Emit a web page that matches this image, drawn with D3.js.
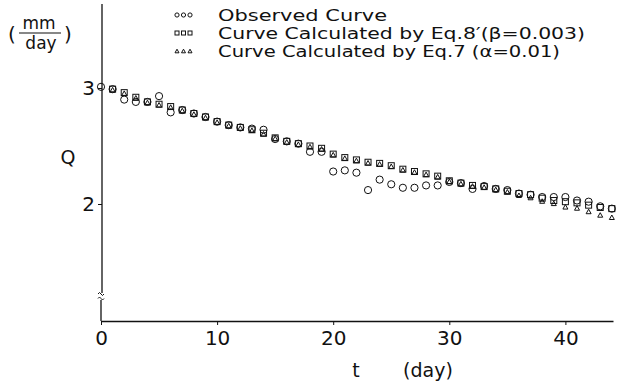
<!DOCTYPE html>
<html><head><meta charset="utf-8">
<script src="https://cdn.jsdelivr.net/npm/d3@7"></script>
<style>
body{margin:0;background:#fff;}
svg text{font-family:"DejaVu Sans","Liberation Sans",sans-serif;fill:#111;}
</style></head>
<body><svg id="c" width="621" height="384"></svg>
<script>
const days = d3.range(0, 45);
const observed = [3.01,2.99,2.90,2.88,2.88,2.93,2.79,2.81,2.78,2.75,2.71,2.68,2.66,2.65,2.64,2.56,2.54,2.52,2.45,2.45,2.28,2.29,2.27,2.12,2.21,2.17,2.14,2.14,2.16,2.16,2.19,2.18,2.13,2.155,2.13,2.12,2.09,2.08,2.06,2.06,2.06,2.03,2.02,1.98,1.96];
const calcDays = d3.range(1, 45);
const eq8 = [2.99,2.96,2.92,2.88,2.86,2.84,2.81,2.78,2.75,2.71,2.68,2.66,2.64,2.61,2.57,2.54,2.52,2.50,2.48,2.43,2.40,2.38,2.36,2.35,2.33,2.30,2.28,2.26,2.24,2.20,2.18,2.16,2.15,2.13,2.11,2.09,2.08,2.05,2.03,2.02,2.01,1.99,1.97,1.96];
const eq7 = [2.99,2.96,2.92,2.88,2.86,2.84,2.81,2.78,2.75,2.71,2.68,2.66,2.64,2.61,2.57,2.54,2.52,2.50,2.48,2.43,2.40,2.38,2.36,2.35,2.33,2.30,2.28,2.26,2.24,2.20,2.18,2.16,2.15,2.13,2.11,2.08,2.06,2.03,2.01,1.98,1.97,1.94,1.91,1.89];
const xTicks = [0,10,20,30,40];
const yTicks = [2,3];
const legendLabels = ["Observed Curve","Curve Calculated by Eq.8\u2032(\u03B2=0.003)","Curve Calculated by Eq.7 (\u03B1=0.01)"];

const svg = d3.select("#c");
const x = d3.scaleLinear().domain([0,44.1]).range([101,613]);
const y = d3.scaleLinear().domain([2,3]).range([204,88]);
const x0 = 101, yBase = 321;

// x axis
const gx = svg.append("g").attr("transform",`translate(0,${yBase})`)
  .call(d3.axisBottom(x).tickValues(xTicks).tickFormat(d3.format("d")).tickSize(4).tickSizeOuter(0).tickPadding(6));
gx.select(".domain").attr("stroke","#111").attr("stroke-width",1.3);
gx.selectAll(".tick line").attr("stroke","#111");
gx.selectAll("text").attr("font-size",20).style("font-family","DejaVu Sans").attr("fill","#111");

// y axis
const gy = svg.append("g").attr("transform",`translate(${x0+1},0)`)
  .call(d3.axisLeft(y).tickValues(yTicks).tickFormat(d3.format("d")).tickSize(4).tickPadding(3));
gy.select(".domain").remove();
gy.selectAll(".tick line").attr("stroke","#111");
gy.selectAll("text").attr("font-size",20).style("font-family","DejaVu Sans").attr("fill","#111");
// y axis line with break
svg.append("line").attr("x1",x0+1).attr("x2",x0+1).attr("y1",4).attr("y2",293).attr("stroke","#111").attr("stroke-width",1.3);
svg.append("line").attr("x1",x0).attr("x2",x0).attr("y1",300).attr("y2",yBase).attr("stroke","#111").attr("stroke-width",1.3);
[293,297.5].forEach(yy=>{
  svg.append("path").attr("d",`M${x0-3},${yy+1} q1.5,-3 3,0 t3,0`).attr("fill","none").attr("stroke","#111").attr("stroke-width",1);
});

// markers
function circle(g,cx,cy,r){g.append("circle").attr("cx",cx).attr("cy",cy).attr("r",r).attr("fill","none").attr("stroke","#111").attr("stroke-width",1);}
function square(g,cx,cy,s){g.append("rect").attr("x",cx-s/2).attr("y",cy-s/2).attr("width",s).attr("height",s).attr("fill","none").attr("stroke","#111").attr("stroke-width",1);}
function tri(g,cx,cy,s){const h=s*0.9;g.append("path").attr("d",`M${cx},${cy-h/2}L${cx+s/2},${cy+h/2}L${cx-s/2},${cy+h/2}Z`).attr("fill","none").attr("stroke","#111").attr("stroke-width",1);}

const gm = svg.append("g");
calcDays.forEach((d,i)=>square(gm,x(d),y(eq8[i]),6));
calcDays.forEach((d,i)=>tri(gm,x(d),y(eq7[i])+0.5,5));
days.forEach((d,i)=>circle(gm,x(d),y(observed[i]),3.6));

// legend
const lg = svg.append("g");
const rowsY = [15,33,51];
const widths = [169,367,342];
[0,1,2].forEach(k=>{
  [177,183.5,190].forEach(sx=>{
    if(k===0) circle(lg,sx,rowsY[k],2.1);
    else if(k===1) square(lg,sx,rowsY[k],4);
    else tri(lg,sx,rowsY[k],4);
  });
  lg.append("text").attr("x",218).attr("y",rowsY[k]+6).attr("font-size",16)
    .attr("textLength",widths[k]).attr("lengthAdjust","spacingAndGlyphs").text(legendLabels[k]);
});

// y unit label
svg.append("text").attr("x",8).attr("y",41).attr("font-size",20).text("(");
svg.append("text").attr("x",64).attr("y",41).attr("font-size",20).text(")");
svg.append("text").attr("x",39).attr("y",29).attr("font-size",17).attr("text-anchor","middle").text("mm");
svg.append("line").attr("x1",19).attr("x2",61).attr("y1",33).attr("y2",33).attr("stroke","#111").attr("stroke-width",1.2);
svg.append("text").attr("x",41).attr("y",49).attr("font-size",17).attr("text-anchor","middle").text("day");
svg.append("text").attr("x",68).attr("y",164).attr("font-size",19).attr("text-anchor","middle").text("Q");

// x axis title
svg.append("text").attr("x",356).attr("y",377).attr("font-size",19).attr("text-anchor","middle").text("t");
svg.append("text").attr("x",428).attr("y",377).attr("font-size",19).attr("text-anchor","middle").text("(day)");
</script></body></html>
